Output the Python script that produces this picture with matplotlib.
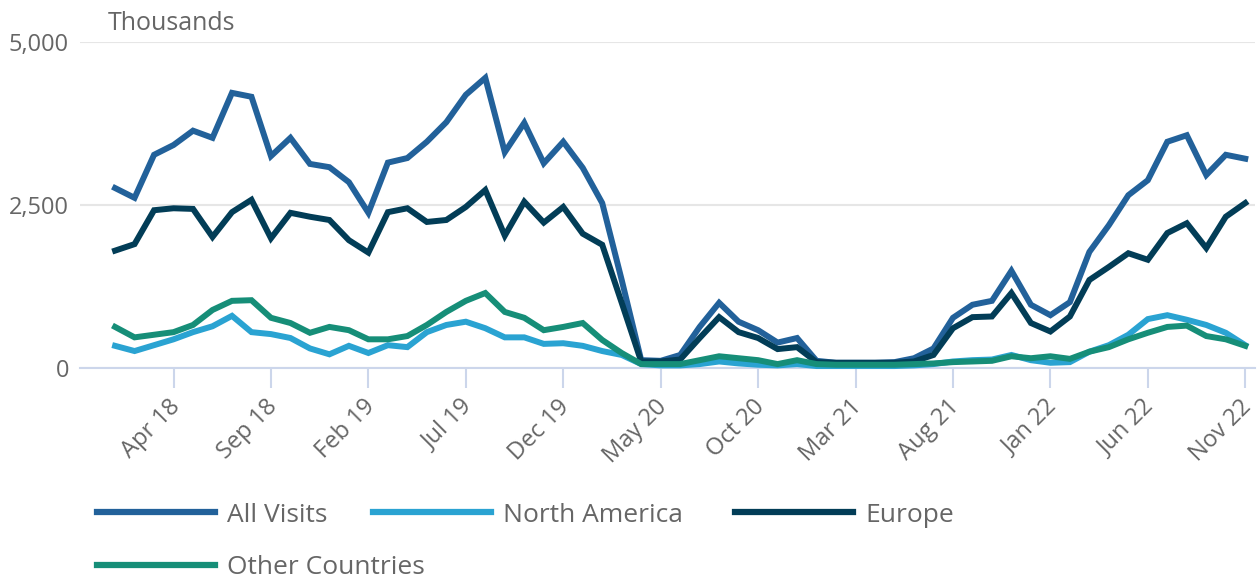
import numpy as np
import matplotlib
matplotlib.use("Agg")
import matplotlib.pyplot as plt
import matplotlib.transforms as mtransforms
from matplotlib.lines import Line2D

# monthly visits (thousands), Jan 2018 - Nov 2022
months = (
    [f"{m} 18" for m in ["Jan", "Feb", "Mar", "Apr", "May", "Jun", "Jul", "Aug", "Sep", "Oct", "Nov", "Dec"]]
    + [f"{m} 19" for m in ["Jan", "Feb", "Mar", "Apr", "May", "Jun", "Jul", "Aug", "Sep", "Oct", "Nov", "Dec"]]
    + [f"{m} 20" for m in ["Jan", "Feb", "Mar", "Apr", "May", "Jun", "Jul", "Aug", "Sep", "Oct", "Nov", "Dec"]]
    + [f"{m} 21" for m in ["Jan", "Feb", "Mar", "Apr", "May", "Jun", "Jul", "Aug", "Sep", "Oct", "Nov", "Dec"]]
    + [f"{m} 22" for m in ["Jan", "Feb", "Mar", "Apr", "May", "Jun", "Jul", "Aug", "Sep", "Oct", "Nov"]]
)

all_visits = [
    2760, 2610, 3270, 3420, 3640, 3530, 4220, 4160, 3250, 3530, 3130, 3080,
    2850, 2380, 3150, 3220, 3470, 3770, 4190, 4450, 3310, 3760, 3140, 3470,
    3070, 2530, 1350, 120, 110, 200, 630, 1000, 710, 580, 390, 460,
    110, 80, 80, 80, 90, 150, 300, 770, 970, 1030, 1490, 970,
    810, 1010, 1780, 2190, 2650, 2880, 3470, 3570, 2960, 3270, 3210,
]
north_america = [
    340, 260, 350, 440, 550, 640, 800, 550, 520, 460, 300, 210,
    340, 230, 350, 320, 550, 660, 710, 610, 470, 470, 370, 380,
    340, 260, 200, 60, 40, 40, 60, 100, 70, 50, 40, 60,
    30, 30, 30, 30, 30, 40, 60, 100, 120, 130, 200, 120,
    80, 90, 250, 350, 510, 750, 810, 740, 660, 540, 350,
]
europe = [
    1800, 1900, 2420, 2450, 2440, 2010, 2390, 2580, 1990, 2380, 2320, 2270,
    1960, 1770, 2390, 2450, 2240, 2270, 2470, 2730, 2030, 2550, 2230, 2470,
    2060, 1890, 1000, 100, 100, 130, 460, 780, 550, 460, 290, 320,
    90, 80, 80, 80, 80, 100, 200, 610, 780, 790, 1150, 690,
    560, 790, 1350, 1550, 1760, 1660, 2070, 2220, 1840, 2320, 2530,
]
other_countries = [
    630, 470, 510, 550, 660, 890, 1030, 1040, 770, 690, 540, 630,
    580, 440, 440, 490, 660, 860, 1030, 1150, 860, 770, 580, 630,
    690, 430, 230, 60, 60, 60, 120, 180, 150, 120, 60, 120,
    60, 50, 50, 50, 50, 60, 70, 90, 100, 110, 180, 150,
    180, 140, 250, 320, 440, 540, 630, 650, 490, 440, 340,
]

series = [
    ("All Visits", all_visits, "#22619a"),
    ("North America", north_america, "#2aa3d2"),
    ("Europe", europe, "#023d57"),
    ("Other Countries", other_countries, "#168e78"),
]

plt.rcParams["font.family"] = ["Open Sans", "DejaVu Sans"]
W, H = 1257, 578
fig = plt.figure(figsize=(W / 100, H / 100), dpi=100)


def fx(x):
    return x / W


def fy(y):
    return 1 - y / H


ax = fig.add_axes([fx(80), fy(368), fx(1255) - fx(80), fy(42) - fy(368)])
x = np.arange(len(months))

for name, vals, col in series:
    ax.plot(x, vals, color=col, lw=4.3, solid_joinstyle="miter", clip_on=False, zorder=3)

ax.set_xlim(-1.8, len(months) - 0.5)
ax.set_ylim(0, 5000)
ax.set_yticks([0, 2500, 5000])
ax.set_yticklabels(["0", "2,500", "5,000"])
ax.tick_params(axis="y", length=0, pad=8, labelsize=17, labelcolor="#666666")

tick_idx = list(range(3, len(months), 5))
ax.set_xticks(tick_idx)
ax.set_xticklabels([months[i] for i in tick_idx], rotation=45, ha="right",
                   va="center", rotation_mode="anchor")
ax.tick_params(axis="x", length=14.5, width=1.5, color="#ccd6eb", pad=11,
               labelsize=17, labelcolor="#666666")
shift = mtransforms.ScaledTranslation(3 / 100, 0, fig.dpi_scale_trans)
for lab in ax.get_xticklabels():
    lab.set_transform(lab.get_transform() + shift)

for s in ["top", "right", "left"]:
    ax.spines[s].set_visible(False)
ax.spines["bottom"].set_color("#ccd6eb")
ax.spines["bottom"].set_linewidth(1.5)
ax.grid(axis="y", color="#e6e6e6", lw=1.5)
ax.set_axisbelow(True)

fig.text(fx(108), fy(24), "Thousands", fontsize=18, color="#666666",
         ha="left", va="center")

# legend
leg_pos = [(97, 512), (373, 512), (735, 512), (97, 565)]
for (name, vals, col), (lx, ly) in zip(series, leg_pos):
    fig.add_artist(Line2D([fx(lx), fx(lx + 118)], [fy(ly), fy(ly)], color=col,
                          lw=4.5, transform=fig.transFigure))
    fig.text(fx(lx + 130), fy(ly + 3), name, fontsize=19, color="#666666",
             ha="left", va="center")

fig.savefig("out.png", dpi=100)
